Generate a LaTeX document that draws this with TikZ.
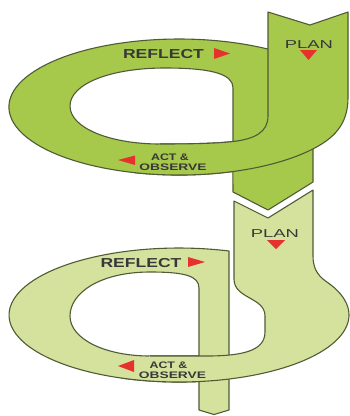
\documentclass[tikz,border=0pt]{standalone}
\usepackage{fontspec}
\setmainfont{Liberation Sans}
\definecolor{gA}{HTML}{A6C94C}
\definecolor{gB}{HTML}{D5E29D}
\definecolor{edgecol}{HTML}{4F5B35}
\definecolor{txtcol}{HTML}{383838}
\definecolor{redcol}{HTML}{E5322D}
\begin{document}
\begin{tikzpicture}[x=1pt,y=-1pt,
  ribbon/.style={draw=edgecol,line width=1.1pt,line join=round},
  lbl/.style={text=txtcol,inner sep=0pt,anchor=base},
  bigfont/.style={font=\bfseries\fontsize{13}{13}\selectfont},
  planfont/.style={font=\fontsize{11.5}{11.5}\selectfont},
  smallfont/.style={font=\bfseries\fontsize{9.5}{9.5}\selectfont},
  redtri/.style={fill=redcol}]
\useasboundingbox (0,0) rectangle (350,416);

% ---------- lower cycle ----------
\path[fill=gB, ribbon] (199,410) -- (214,414.5) -- (229,410) -- (229,251)
  arc[start angle=-72.9, end angle=-276.75, x radius=170, y radius=67] -- cycle;
\path[fill=white, ribbon] (199,356) -- (199,288) .. controls (199,276) and (185,272) .. (150,272)
  .. controls (100,272) and (70,293) .. (70,316)
  .. controls (70,339) and (105,356) .. (150,356) -- cycle;
\fill[gB] (234,201) -- (268,218) -- (313,190) -- (313,256)
  .. controls (313,266) and (316,274.5) .. (326.2,281.5)
  arc[start angle=-30, end angle=110, x radius=170, y radius=67]
  -- (150,356) -- (199,356) .. controls (240,356.5) and (265,352) .. (265,332)
  -- (265,316) .. controls (265,297) and (234,299) .. (234,279) -- cycle;
\draw[ribbon] (150,356) -- (199,356) .. controls (240,356.5) and (265,352) .. (265,332)
  -- (265,316) .. controls (265,297) and (234,299) .. (234,279)
  -- (234,201) -- (268,218) -- (313,190) -- (313,256)
  .. controls (313,266) and (316,274.5) .. (326.2,281.5)
  arc[start angle=-30, end angle=110, x radius=170, y radius=67];

% ---------- upper cycle ----------
\path[fill=gA, ribbon] (233,192) -- (268,210) -- (313,182) -- (313,70) -- (268,49.1)
  arc[start angle=-58.4, end angle=-288.5, x radius=170, y radius=68] -- cycle;
\path[fill=white, ribbon] (233,141.5) -- (233,88) .. controls (233,75) and (215,68) .. (165,68)
  .. controls (110,68) and (70,84) .. (70,106)
  .. controls (70,128) and (110,144) .. (160,144)
  .. controls (200,144) and (220,143) .. (233,141.5) -- cycle;
\fill[gA] (268,12) -- (310,25) -- (348,12) -- (348,98)
  .. controls (348,125) and (333,138.7) .. (313,148.9)
  arc[start angle=38, end angle=105, x radius=170, y radius=68]
  -- (160,144) .. controls (200,144) and (220,143) .. (233,141.5)
  .. controls (255,139) and (268,132) .. (268,116) -- cycle;
\draw[ribbon] (160,144) .. controls (200,144) and (220,143) .. (233,141.5)
  .. controls (255,139) and (268,132) .. (268,116)
  -- (268,12) -- (310,25) -- (348,12) -- (348,98)
  .. controls (348,125) and (333,138.7) .. (313,148.9)
  arc[start angle=38, end angle=105, x radius=170, y radius=68];

% ---------- labels ----------
\node[lbl, bigfont] (reflectA) at (163.5,58.3) {\scalebox{1.35}[1]{REFLECT}};
\node[lbl, planfont] (planA) at (309,48) {\scalebox{1.6}[1]{PLAN}};
\node[lbl, smallfont] (actA) at (170,160) {\scalebox{1.3}[1]{ACT \&}};
\node[lbl, smallfont] (obsA) at (173,170) {\scalebox{1.45}[1]{OBSERVE}};

\node[lbl, bigfont] (reflectB) at (141,267) {\scalebox{1.35}[1]{REFLECT}};
\node[lbl, planfont] (planB) at (275,237) {\scalebox{1.6}[1]{PLAN}};
\node[lbl, smallfont] (actB) at (168.5,368.5) {\scalebox{1.3}[1]{ACT \&}};
\node[lbl, smallfont] (obsB) at (172.5,378) {\scalebox{1.45}[1]{OBSERVE}};

% ---------- direction marks ----------
\path[redtri] (214,48) -- (230,53.5) -- (214,59) -- cycle;
\path[redtri] (300,50) -- (317,50) -- (308.5,60) -- cycle;
\path[redtri] (135,155.5) -- (135,165) -- (118,160) -- cycle;
\path[redtri] (267,240) -- (285,240) -- (276,249) -- cycle;
\path[redtri] (188,257) -- (205,262) -- (188,267) -- cycle;
\path[redtri] (134,360) -- (134,372) -- (118,366) -- cycle;
\end{tikzpicture}
\end{document}
